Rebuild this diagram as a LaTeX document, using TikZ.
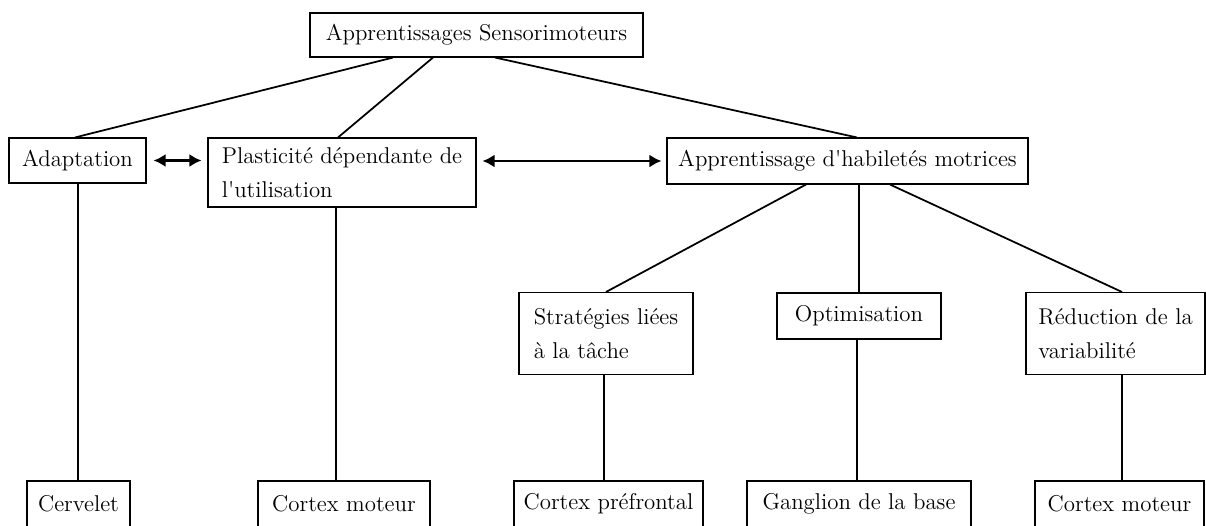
\documentclass[tikz,border=0pt]{standalone}
\usepackage{tikz}
\usetikzlibrary{arrows.meta}

\tikzset{
  boite/.style={draw, line width=0.6pt, inner xsep=0.15cm, inner ysep=0pt,
    font=\fontsize{13}{19.5}\selectfont},
  lien/.style={line width=1pt},
  fleche/.style={line width=1.3pt, {Latex[length=2.4mm,width=2.6mm]}-{Latex[length=2.4mm,width=2.6mm]}}
}

\begin{document}
\begin{tikzpicture}
\useasboundingbox (0,0) rectangle (24.12,-10.5);

\node[boite, minimum width=6.66cm, minimum height=0.88cm] (top) at (9.53,-0.70) {Apprentissages Sensorimoteurs};

\node[boite, minimum width=2.74cm, minimum height=0.90cm] (adapt) at (1.55,-3.21) {Adaptation};
\node[boite, align=left, minimum width=5.36cm, minimum height=1.38cm] (plast) at (6.84,-3.45) {Plasticit\'e d\'ependante de\\l\textquotesingle utilisation};
\node[boite, minimum width=7.22cm, minimum height=0.92cm] (habil) at (16.95,-3.22) {Apprentissage d\textquotesingle habilet\'es motrices};

\node[boite, align=left, minimum width=3.48cm, minimum height=1.64cm] (strat) at (12.12,-6.67) {Strat\'egies li\'ees\\\`a la t\^ache};
\node[boite, minimum width=3.28cm, minimum height=0.92cm] (optim) at (17.18,-6.32) {Optimisation};
\node[boite, align=left, minimum width=3.58cm, minimum height=1.64cm] (reduc) at (22.31,-6.67) {R\'eduction de la\\variabilit\'e};

\node[boite, minimum width=2.06cm, minimum height=0.92cm] (cerv) at (1.57,-10.08) {Cervelet};
\node[boite, minimum width=3.44cm, minimum height=0.92cm] (cortA) at (6.88,-10.08) {Cortex moteur};
\node[boite, minimum width=3.78cm, minimum height=0.92cm] (prefr) at (12.17,-10.08) {Cortex pr\'efrontal};
\node[boite, minimum width=4.48cm, minimum height=0.92cm] (gangl) at (17.18,-10.08) {Ganglion de la base};
\node[boite, minimum width=3.38cm, minimum height=0.92cm] (cortB) at (22.39,-10.08) {Cortex moteur};

% branches du haut
\draw[lien] ([xshift=-1.67cm]top.south) -- ([xshift=-0.05cm]adapt.north);
\draw[lien] ([xshift=-0.87cm]top.south) -- ([xshift=-0.08cm]plast.north);
\draw[lien] ([xshift=0.37cm]top.south) -- ([xshift=0.19cm]habil.north);

% liens entre apprentissages
\draw[fleche, shorten <=0.14cm, shorten >=0.12cm] (adapt.east) -- (adapt.east -| plast.west);
\draw[fleche, shorten <=0.12cm, shorten >=0.10cm] (habil.west -| plast.east) -- (habil.west);

% branches de l'habilete motrice
\draw[lien] ([xshift=-0.83cm]habil.south) -- (strat.north);
\draw[lien] (optim.north |- habil.south) -- (optim.north);
\draw[lien] ([xshift=0.85cm]habil.south) -- ([xshift=0.13cm]reduc.north);

% structures cerebrales
\draw[lien] ([xshift=0.01cm]adapt.south) -- ([xshift=0.01cm]adapt.south |- cerv.north);
\draw[lien] ([xshift=-0.12cm]plast.south) -- ([xshift=-0.12cm]plast.south |- cortA.north);
\draw[lien] ([xshift=-0.04cm]strat.south) -- ([xshift=-0.04cm]strat.south |- prefr.north);
\draw[lien] ([xshift=-0.04cm]optim.south) -- ([xshift=-0.04cm]optim.south |- gangl.north);
\draw[lien] ([xshift=0.13cm]reduc.south) -- ([xshift=0.13cm]reduc.south |- cortB.north);
\end{tikzpicture}
\end{document}
